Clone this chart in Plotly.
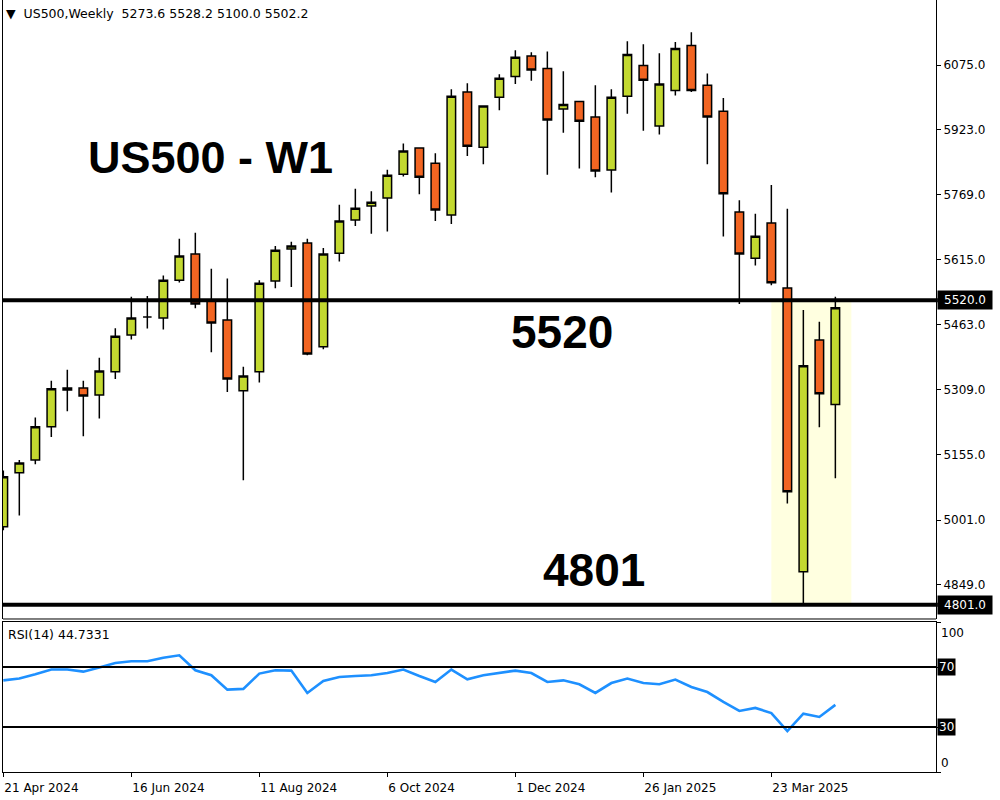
import plotly.graph_objects as go
import pandas as pd

# ---------------- data ----------------
symbol = "US500"
timeframe = "Weekly"
chart_title = "US500 - W1"
dates = pd.date_range("2024-04-21", periods=53, freq="7D")

opens = [4985, 5113, 5143, 5221, 5313, 5313, 5296, 5351, 5438, 5480,
         5478, 5567, 5629, 5519, 5473, 5306, 5351, 5565, 5641, 5655,
         5410, 5631, 5709, 5742, 5761, 5817, 5879, 5843, 5721, 6011,
         5881, 5999, 6048, 6096, 6067, 5971, 5989, 5952, 5827, 6001,
         6074, 5931, 6015, 6121, 6027, 5966, 5728, 5619, 5702, 5549,
         4879, 5426, 5273.6]
highs = [5118, 5143, 5243, 5330, 5356, 5330, 5384, 5454, 5528, 5530,
         5578, 5665, 5679, 5594, 5571, 5363, 5567, 5648, 5658, 5665,
         5643, 5745, 5783, 5777, 5828, 5890, 5881, 5867, 6018, 6032,
         5980, 6053, 6110, 6105, 6107, 6060, 5990, 6027, 6018, 6131,
         6124, 6103, 6129, 6152, 6055, 5997, 5756, 5724, 5792, 5736,
         5497, 5469, 5528.2]
lows = [4977, 5012, 5133, 5197, 5258, 5199, 5241, 5334, 5427, 5453,
        5451, 5562, 5501, 5397, 5303, 5095, 5326, 5548, 5551, 5390,
        5404, 5611, 5695, 5677, 5682, 5812, 5770, 5707, 5700, 5860,
        5841, 5968, 6030, 6038, 5816, 5915, 5831, 5810, 5774, 5960,
        5920, 5911, 6003, 6011, 5841, 5670, 5511, 5602, 5555, 5040,
        4801, 5220, 5100.0]
closes = [5103, 5136, 5221, 5311, 5308, 5294, 5353, 5435, 5478, 5480,
          5567, 5624, 5511, 5466, 5334, 5341, 5560, 5638, 5648, 5393,
          5629, 5707, 5737, 5751, 5815, 5872, 5810, 5733, 6001, 5883,
          5978, 6044, 6093, 6063, 5945, 5982, 5942, 5825, 5999, 6100,
          6039, 6030, 6114, 6015, 5952, 5771, 5629, 5671, 5561, 5068,
          5365, 5299, 5502.2]
rsi = [61.1, 62.3, 65.1, 68.3, 68.3, 66.9, 69.6, 72.7, 73.8, 73.8,
       76.2, 77.8, 67.8, 64.5, 54.9, 55.4, 65.6, 67.8, 67.6, 52.7,
       60.7, 63.3, 64.0, 64.5, 66.0, 68.3, 64.0, 60.0, 68.3, 61.8,
       64.5, 66.2, 67.6, 66.0, 60.0, 61.1, 58.5, 52.7, 59.3, 62.3,
       59.3, 58.5, 61.6, 56.7, 53.3, 46.7, 40.7, 42.7, 39.3, 27.3,
       38.9, 36.7, 44.7331]
rsi_period = 14
level_resistance = 5520.0
level_support = 4801.0
rsi_levels = [70, 30]
price_ticks = [6075, 5923, 5769, 5615, 5463, 5309, 5155, 5001, 4849]
date_tick_labels = ["21 Apr 2024", "16 Jun 2024", "11 Aug 2024", "6 Oct 2024",
                    "1 Dec 2024", "26 Jan 2025", "23 Mar 2025"]
date_tick_vals = list(dates[::8])
highlight_start = dates[48]
highlight_weeks = 5

# ---------------- style ----------------
GREEN = "#C3D930"
ORANGE = "#F26522"
BLUE = "#1E90FF"
FONT = "DejaVu Sans"
week = pd.Timedelta(weeks=1)

fig = go.Figure()
fig.add_trace(go.Candlestick(
    x=dates, open=opens, high=highs, low=lows, close=closes,
    increasing=dict(fillcolor=GREEN, line=dict(color="black", width=1.5)),
    decreasing=dict(fillcolor=ORANGE, line=dict(color="black", width=1.5)),
    whiskerwidth=0, showlegend=False, hoverinfo="skip",
    xaxis="x", yaxis="y"))
fig.add_trace(go.Scatter(
    x=dates, y=rsi, mode="lines", line=dict(color=BLUE, width=2.6),
    showlegend=False, hoverinfo="skip", xaxis="x", yaxis="y2"))

shapes = [
    dict(type="rect", xref="x", yref="y", x0=highlight_start,
         x1=highlight_start + highlight_weeks * week,
         y0=level_support, y1=level_resistance,
         fillcolor="rgb(255,255,224)", line=dict(width=0), layer="below"),
    dict(type="line", xref="paper", yref="y", x0=0, x1=1.002,
         y0=level_resistance, y1=level_resistance, line=dict(color="black", width=4)),
    dict(type="line", xref="paper", yref="y", x0=0, x1=1.002,
         y0=level_support, y1=level_support, line=dict(color="black", width=4)),
    dict(type="line", xref="paper", yref="y domain", x0=0, x1=1, y0=0, y1=0,
         line=dict(color="black", width=1)),
]
for lv in rsi_levels:
    shapes.append(dict(type="line", xref="paper", yref="y2", x0=0, x1=1,
                       y0=lv, y1=lv, line=dict(color="black", width=2)))

annotations = [
    dict(text="\u25BC\u00a0\u00a0" + f"{symbol},{timeframe}\u00a0\u00a0"
         + f"{opens[-1]:.1f} {highs[-1]:.1f} {lows[-1]:.1f} {closes[-1]:.1f}",
         xref="paper", yref="paper", x=0, y=1, xanchor="left", yanchor="top",
         xshift=1, yshift=-4, showarrow=False,
         font=dict(family=FONT, size=12.5, color="black")),
    dict(text=f"RSI({rsi_period}) {rsi[-1]:.4f}", xref="paper", yref="y2", x=0, y=100,
         xanchor="left", yanchor="top", xshift=3, yshift=-3, showarrow=False,
         font=dict(family=FONT, size=12.5, color="black")),
    dict(text=f"<b>{chart_title}</b>", xref="paper", yref="paper", x=0.2224, y=0.7966,
         xanchor="center", yanchor="middle", showarrow=False,
         font=dict(family="Liberation Sans", size=45, color="black")),
    dict(text=f"<b>{level_resistance:.0f}</b>", xref="paper", yref="paper", x=0.599, y=0.5699,
         xanchor="center", yanchor="middle", showarrow=False,
         font=dict(family="Liberation Sans", size=46, color="black")),
    dict(text=f"<b>{level_support:.0f}</b>", xref="paper", yref="paper", x=0.633, y=0.2617,
         xanchor="center", yanchor="middle", showarrow=False,
         font=dict(family="Liberation Sans", size=46, color="black")),
]
for val in [level_resistance, level_support]:
    annotations.append(dict(text=f"{val:.1f}", xref="paper", yref="y", x=1, y=val,
                            xanchor="left", yanchor="middle", xshift=1, showarrow=False,
                            bgcolor="black", borderpad=2, width=50,
                            font=dict(family=FONT, size=12, color="white")))
for lv in rsi_levels:
    annotations.append(dict(text=f"{lv}", xref="paper", yref="y2", x=1, y=lv,
                            xanchor="left", yanchor="middle", xshift=1, showarrow=False,
                            bgcolor="black", borderpad=1,
                            font=dict(family=FONT, size=12, color="white")))
annotations.append(dict(text="100", xref="paper", yref="y2", x=1, y=100, xanchor="left",
                        yanchor="top", xshift=3, yshift=-2, showarrow=False,
                        font=dict(family=FONT, size=12, color="black")))
annotations.append(dict(text="0", xref="paper", yref="y2", x=1, y=0, xanchor="left",
                        yanchor="bottom", xshift=3, yshift=0, showarrow=False,
                        font=dict(family=FONT, size=12, color="black")))

fig.update_layout(
    width=1000, height=800,
    margin=dict(l=3, r=64, t=0, b=28, autoexpand=False),
    paper_bgcolor="white", plot_bgcolor="white",
    boxgap=0.27, boxgroupgap=0.27,
    showlegend=False,
    shapes=shapes, annotations=annotations,
    xaxis=dict(
        type="date", anchor="y2", domain=[0, 1],
        range=[dates[0] - 0.02 * week, dates[0] + 58.29 * week],
        showgrid=False, zeroline=False, showline=True, mirror=True,
        linecolor="black", linewidth=1,
        ticks="outside", ticklen=4, tickcolor="black",
        tickvals=date_tick_vals, ticktext=date_tick_labels,
        ticklabelposition="outside right", ticklabelstandoff=5,
        tickfont=dict(family=FONT, size=12, color="black"),
        rangeslider=dict(visible=False), fixedrange=True),
    yaxis=dict(
        domain=[0.1982, 1], anchor="x", side="right",
        range=[4767.6, 6228.4],
        showgrid=False, zeroline=False, showline=True, mirror=True,
        linecolor="black", linewidth=1,
        ticks="outside", ticklen=4, tickcolor="black",
        tickvals=price_ticks, ticktext=[f"{v:.1f}" for v in price_ticks],
        tickfont=dict(family=FONT, size=12, color="black"), fixedrange=True),
    yaxis2=dict(
        domain=[0, 0.1943], anchor="x", side="right", range=[0, 100],
        showgrid=False, zeroline=False, showline=True, mirror=True,
        linecolor="black", linewidth=1,
        ticks="outside", ticklen=4, tickcolor="black",
        tickvals=[0, 30, 70, 100], showticklabels=False, fixedrange=True),
)

fig.write_html("out.html", config={"displayModeBar": False},
               post_script="document.body.style.margin='0';"
                           "document.body.style.overflow='hidden';")
